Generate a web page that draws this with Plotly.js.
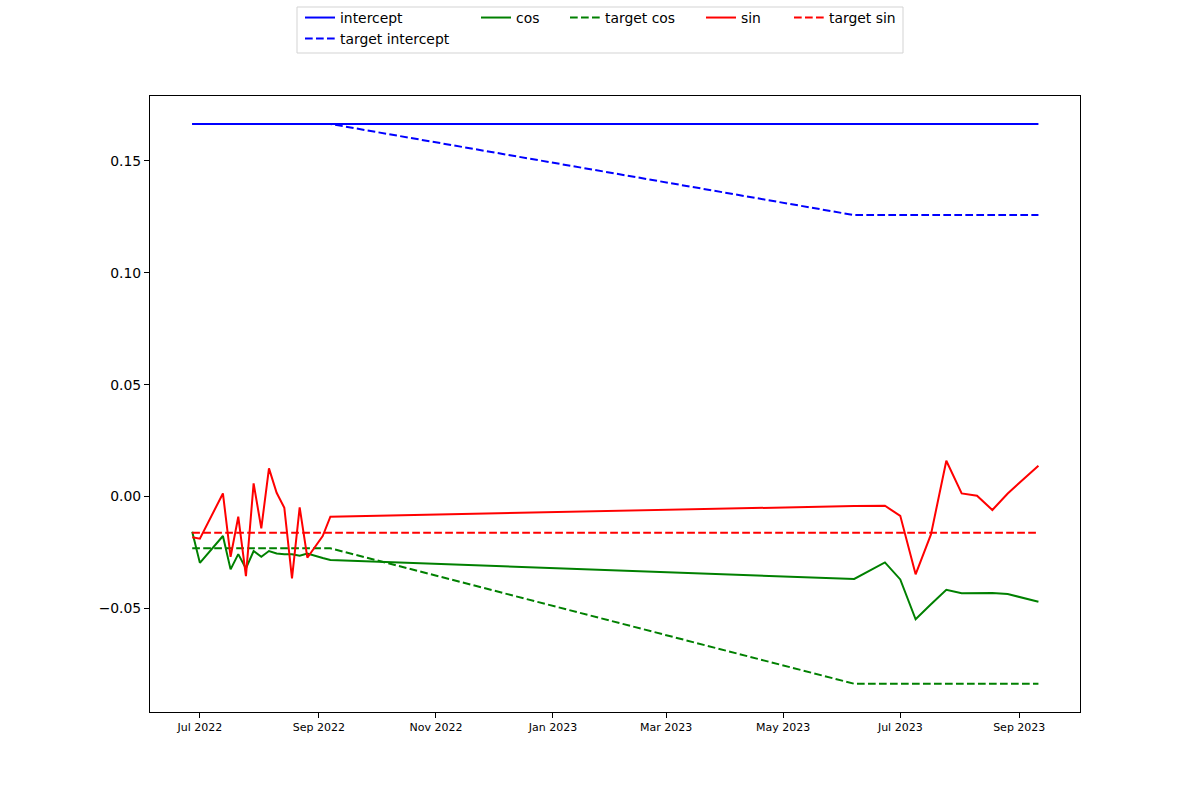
<!DOCTYPE html>
<html>
<head>
<meta charset="utf-8">
<script src="https://cdn.plot.ly/plotly-3.0.1.min.js"></script>
<style>html,body{margin:0;padding:0;background:#fff;}#chart{width:1200px;height:800px;}</style>
</head>
<body>
<div id="chart"></div>
<script>
// Dates of the fitted series (sin / cos)
const dates = ["2022-06-27","2022-07-01","2022-07-13","2022-07-17","2022-07-21","2022-07-25","2022-07-29",
  "2022-08-02","2022-08-06","2022-08-10","2022-08-14","2022-08-18","2022-08-22","2022-08-26","2022-09-03",
  "2022-09-07","2023-06-07","2023-06-23","2023-07-01","2023-07-09","2023-07-17","2023-07-25","2023-08-02",
  "2023-08-10","2023-08-18","2023-08-26","2023-09-11"];
const sinValues = [-0.0182,-0.0188,0.0014,-0.0269,-0.0090,-0.0355,0.0059,
  -0.0142,0.0126,0.0017,-0.0050,-0.0365,-0.0048,-0.0273,-0.0176,
  -0.0090,-0.0042,-0.0041,-0.0086,-0.0347,-0.0169,0.0160,0.0014,
  0.0004,-0.0060,0.0014,0.0138];
const cosValues = [-0.0157,-0.0296,-0.0176,-0.0325,-0.0257,-0.0321,-0.0243,
  -0.0269,-0.0243,-0.0254,-0.0257,-0.0258,-0.0264,-0.0254,-0.0274,
  -0.0283,-0.0368,-0.0294,-0.0370,-0.0548,-0.0481,-0.0416,-0.0432,
  -0.0432,-0.0431,-0.0435,-0.0470];
const interceptDates = ["2022-06-27","2023-09-11"];
const interceptValues = [0.1664,0.1664];

// Target series (vertices)
const targetDates = ["2022-06-27","2022-09-07","2023-06-07","2023-09-11"];
const targetIntercept = [0.1664,0.1664,0.1257,0.1257];
const targetCos = [-0.0231,-0.0231,-0.0836,-0.0836];
const targetSin = [-0.0162,-0.0162,-0.0162,-0.0162];

const yTicks = [-0.05,0,0.05,0.10,0.15];

const DASH = "7.7px,3.3px";
const W = 2;
const traces = [
  {x: interceptDates, y: interceptValues, name: "intercept", mode: "lines", line: {color: "#0000ff", width: W}, legend: "legend"},
  {x: targetDates, y: targetIntercept, name: "target intercept", mode: "lines", line: {color: "#0000ff", width: W, dash: DASH}, legend: "legend"},
  {x: dates, y: cosValues, name: "cos", mode: "lines", line: {color: "#008000", width: W}, legend: "legend2"},
  {x: targetDates, y: targetCos, name: "target cos", mode: "lines", line: {color: "#008000", width: W, dash: DASH}, legend: "legend3"},
  {x: dates, y: sinValues, name: "sin", mode: "lines", line: {color: "#ff0000", width: W}, legend: "legend4"},
  {x: targetDates, y: targetSin, name: "target sin", mode: "lines", line: {color: "#ff0000", width: W, dash: DASH}, legend: "legend5"}
];

const legFont = {family: "DejaVu Sans", size: 13.9, color: "#000"};
function leg(px) {
  return {x: px/1200, y: 1 - 2/800, xref: "container", yref: "container", xanchor: "left", yanchor: "top",
    orientation: "v", bgcolor: "rgba(0,0,0,0)", borderwidth: 0, font: legFont, tracegroupgap: 0};
}

const layout = {
  width: 1200, height: 800,
  margin: {l: 150, r: 120, t: 96, b: 88, pad: 0, autoexpand: false},
  paper_bgcolor: "#fff", plot_bgcolor: "#fff",
  font: {family: "DejaVu Sans", color: "#000"},
  showlegend: true,
  legend: leg(300),
  legend2: leg(476),
  legend3: leg(565),
  legend4: leg(701),
  legend5: leg(789),
  xaxis: {
    type: "date",
    range: ["2022-06-05", "2023-10-02 16:00"],
    tick0: "2022-07-01", dtick: "M2", tickformat: "%b %Y",
    showgrid: false, zeroline: false,
    showline: true, linecolor: "#000", linewidth: 1, mirror: true,
    ticks: "outside", ticklen: 5, tickwidth: 1, tickcolor: "#000",
    tickfont: {family: "DejaVu Sans", size: 11, color: "#000"}
  },
  yaxis: {
    range: [-0.0962, 0.1789],
    tickvals: yTicks, tickformat: ".2f",
    showgrid: false, zeroline: false,
    showline: true, linecolor: "#000", linewidth: 1, mirror: true,
    ticks: "outside", ticklen: 5, tickwidth: 1, tickcolor: "#000",
    tickfont: {family: "DejaVu Sans", size: 13.9, color: "#000"}
  },
  shapes: [{
    type: "rect", xref: "paper", yref: "paper",
    x0: (297-150)/930, x1: (903-150)/930, y0: (712-53)/616, y1: (712-7)/616,
    line: {color: "#d3d3d3", width: 1}, fillcolor: "rgba(255,255,255,0.8)", layer: "below"
  }]
};

Plotly.newPlot("chart", traces, layout, {displayModeBar: false, staticPlot: true});
</script>
</body>
</html>
